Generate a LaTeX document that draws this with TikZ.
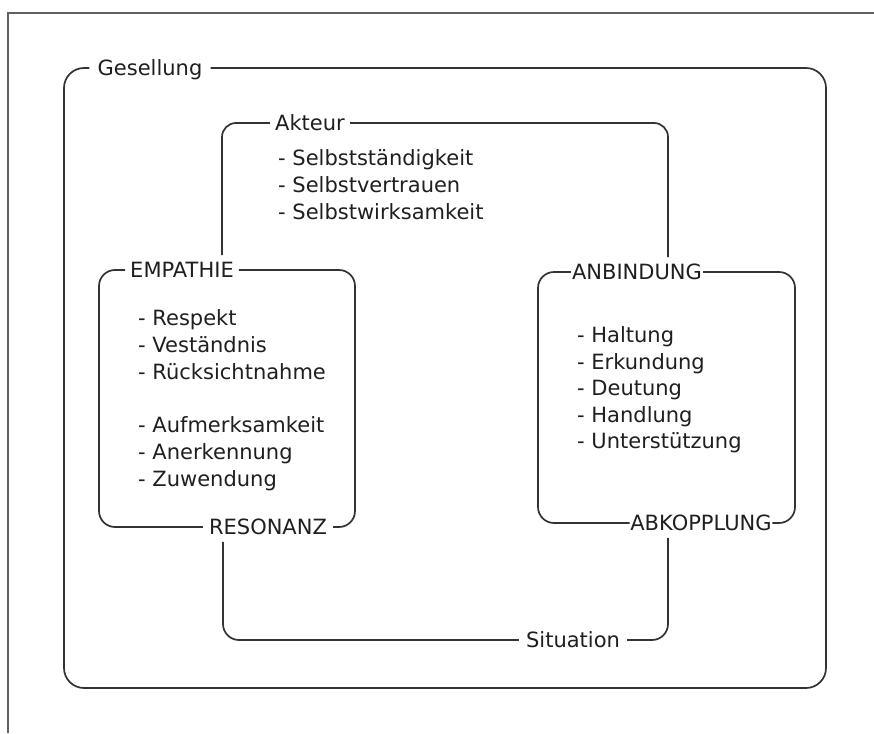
\documentclass[tikz,border=0pt]{standalone}
\usepackage{fontspec}
\setmainfont{DejaVu Sans}
\begin{document}
\begin{tikzpicture}[x=1pt,y=-1pt,
  frame/.style={draw=black!62, line width=1.6pt},
  loop/.style={draw=black!80, line width=1.7pt, rounded corners=16pt},
  tag/.style={inner xsep=6pt, inner ysep=7pt, text height=15.3pt, text depth=0pt,
    text=black!88, font=\fontsize{21}{27}\selectfont},
  item/.style={anchor=base west, inner sep=0pt, text=black!88,
    font=\fontsize{21}{27}\selectfont}]

\useasboundingbox (0,0) rectangle (874,733);
\fill[white] (0,0) rectangle (874,733);

% page frame (only top and left edges)
\draw[frame] (8,733) -- (8,13) -- (874,13);

% labels sitting on the loops
\node[tag, inner xsep=8pt] (ges) at (150,68) {Gesellung};
\node[tag, inner xsep=5pt] (akt) at (310,123) {Akteur};
\node[tag, inner xsep=7pt] (sit) at (573,640) {Situation};
\node[tag, inner xsep=5pt] (emp) at (182,270) {EMPATHIE};
\node[tag, inner xsep=6pt] (res) at (268,527) {RESONANZ};
\node[tag, inner xsep=1pt] (anb) at (637,272) {ANBINDUNG};
\node[tag, inner xsep=0.5pt] (abk) at (701,523) {ABKOPPLUNG};

% corner points of the open loops
\coordinate (akTL) at (222,123);
\coordinate (akTR) at (668,123);
\coordinate (siBL) at (223,640);
\coordinate (siBR) at (668,640);

% Gesellung
\draw[loop, rounded corners=20pt] (ges.west) -- (64,68) -- (64,688) -- (826,688) -- (826,68) -- (ges.east);

% Akteur
\draw[loop, rounded corners=14pt] (emp.north -| akTL) -- (akTL) -- (akt.west);
\draw[loop, rounded corners=14pt] (akt.east) -- (akTR) -- (anb.north -| akTR);

% Situation
\draw[loop] (res.south -| siBL) -- (siBL) -- (sit.west);
\draw[loop] (sit.east) -- (siBR) -- (abk.south -| siBR);

% EMPATHIE / RESONANZ
\draw[loop] (emp.west) -- (99,270) -- (99,527) -- (res.west);
\draw[loop] (res.east) -- (355,527) -- (355,270) -- (emp.east);

% ANBINDUNG / ABKOPPLUNG
\draw[loop] (anb.west) -- (538,272) -- (538,523) -- (abk.west);
\draw[loop] (abk.east) -- (795,523) -- (795,272) -- (anb.east);

% lists
\foreach \t [count=\i] in {Selbstständigkeit,Selbstvertrauen,Selbstwirksamkeit}
  \node[item] (akt-\i) at (278,{165+27*(\i-1)}) {- \t};

\foreach \t/\y [count=\i] in {Respekt/325,Veständnis/352,Rücksichtnahme/379,
    Aufmerksamkeit/432,Anerkennung/459,Zuwendung/486}
  \node[item] (emp-\i) at (138,\y) {- \t};

\foreach \t/\y [count=\i] in {Haltung/342,Erkundung/369,Deutung/395,
    Handlung/422,Unterstützung/448}
  \node[item] (anb-\i) at (577,\y) {- \t};

\end{tikzpicture}
\end{document}
